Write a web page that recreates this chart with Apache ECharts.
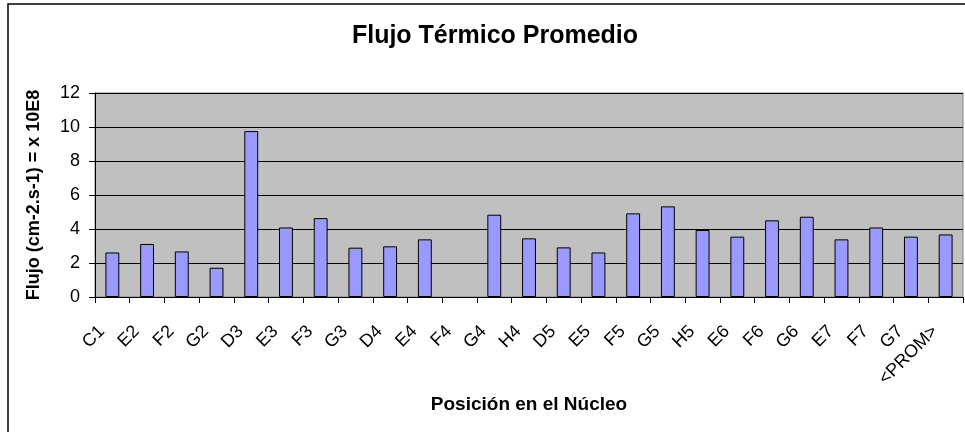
<!DOCTYPE html>
<html>
<head>
<meta charset="utf-8">
<script src="https://cdn.jsdelivr.net/npm/echarts@6/dist/echarts.min.js"></script>
<style>
  html, body { margin: 0; padding: 0; background: #fff; }
  #chart { width: 965px; height: 432px; }
</style>
</head>
<body>
<div id="chart"></div>
<script>
// Core positions (x axis categories)
const positions = ['C1', 'E2', 'F2', 'G2', 'D3', 'E3', 'F3', 'G3', 'D4', 'E4', 'F4', 'G4', 'H4',
                   'D5', 'E5', 'F5', 'G5', 'H5', 'E6', 'F6', 'G6', 'E7', 'F7', 'G7', '<PROM>'];
// Average thermal flux per position, in units of 10E8 (F4 has no value)
const flux = [2.62, 3.12, 2.68, 1.72, 9.76, 4.09, 4.64, 2.90, 2.98, 3.39, null, 4.84, 3.45,
              2.92, 2.62, 4.92, 5.33, 3.94, 3.55, 4.51, 4.72, 3.39, 4.09, 3.55, 3.68];
// Y axis tick values
const yTicks = [0, 2, 4, 6, 8, 10, 12];

const FONT = '"Liberation Sans", Arial, sans-serif';
const chart = echarts.init(document.getElementById('chart'), null, { renderer: 'canvas' });

chart.setOption({
  animation: false,
  backgroundColor: '#ffffff',
  title: {
    text: 'Flujo Térmico Promedio',
    left: 490,
    top: 19,
    textAlign: 'center',
    textStyle: { fontFamily: FONT, fontSize: 25, fontWeight: 'bold', color: '#000' }
  },
  graphic: [{
    type: 'rect',
    shape: { x: 8, y: 4, width: 1000, height: 500 },
    style: { fill: 'none', stroke: '#000', lineWidth: 1.5 },
    silent: true,
    z: 100
  }],
  grid: {
    left: 95, right: 2, top: 93, bottom: 135,
    show: true,
    backgroundColor: '#C0C0C0',
    borderColor: '#808080',
    borderWidth: 1
  },
  xAxis: {
    type: 'category',
    data: positions,
    name: 'Posición en el Núcleo',
    nameLocation: 'middle',
    nameGap: 98,
    nameTextStyle: { fontFamily: FONT, fontSize: 19, fontWeight: 'bold', color: '#000' },
    axisLine: { lineStyle: { color: '#000', width: 1 } },
    axisTick: { show: true, length: 6, lineStyle: { color: '#000' } },
    axisLabel: {
      interval: 0, rotate: 45, margin: 21,
      padding: [0, 15, 0, 0],
      fontFamily: FONT, fontSize: 18, color: '#000'
    },
    splitLine: { show: false }
  },
  yAxis: {
    type: 'value',
    min: yTicks[0],
    max: yTicks[yTicks.length - 1],
    interval: 2,
    name: 'Flujo (cm-2.s-1) = x 10E8',
    nameLocation: 'middle',
    nameGap: 52,
    nameTextStyle: { fontFamily: FONT, fontSize: 18, fontWeight: 'bold', color: '#000' },
    axisLine: { show: true, lineStyle: { color: '#000', width: 1 } },
    axisTick: { show: true, length: 6, lineStyle: { color: '#000' } },
    axisLabel: { margin: 15, fontFamily: FONT, fontSize: 18, color: '#000' },
    splitLine: { show: true, lineStyle: { color: '#000', width: 1 } }
  },
  series: [{
    type: 'bar',
    data: flux,
    barWidth: '40%',
    itemStyle: { color: '#9999FF', borderColor: '#000', borderWidth: 1 }
  }]
});
</script>
</body>
</html>
